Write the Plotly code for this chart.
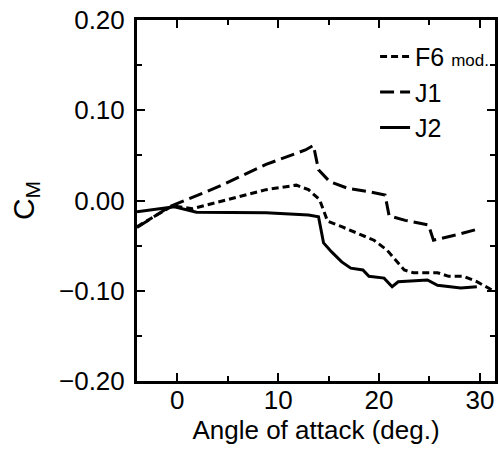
import plotly.graph_objects as go

# ---- data ----
angle_f6 = [-4.0, -0.5, 1.5, 4.2, 8.8, 11.8, 13.0, 14.1, 14.9, 16.3, 18.2, 19.5, 20.8, 22.5, 23.4, 25.8, 26.9, 28.4, 29.7, 31.5]
cm_f6 = [-0.029, -0.006, -0.009, -0.001, 0.012, 0.017, 0.012, 0.001, -0.023, -0.029, -0.038, -0.044, -0.055, -0.077, -0.080, -0.080, -0.084, -0.084, -0.090, -0.101]

angle_j1 = [-4.0, -0.8, 2.5, 4.8, 8.8, 12.7, 13.5, 13.8, 14.0, 15.1, 16.9, 18.9, 20.6, 21.0, 22.6, 24.9, 25.4, 27.7, 29.7]
cm_j1 = [-0.030, -0.007, 0.008, 0.019, 0.040, 0.056, 0.061, 0.043, 0.034, 0.021, 0.0135, 0.010, 0.006, -0.017, -0.022, -0.027, -0.044, -0.038, -0.032]

angle_j2 = [-4.0, -0.3, 1.9, 8.8, 13.0, 14.0, 14.5, 15.3, 16.3, 17.2, 18.4, 19.0, 20.5, 21.3, 21.9, 24.8, 25.8, 28.1, 29.7]
cm_j2 = [-0.0125, -0.007, -0.013, -0.0135, -0.016, -0.018, -0.047, -0.057, -0.068, -0.075, -0.077, -0.084, -0.086, -0.0955, -0.090, -0.088, -0.094, -0.097, -0.0955]

x_ticks = [0, 10, 20, 30]
y_ticks = [-0.20, -0.10, 0.00, 0.10, 0.20]
y_ticklabels = ["\u22120.20", "\u22120.10", "0.00", "0.10", "0.20"]

FONT = "Liberation Sans, Arial, sans-serif"

fig = go.Figure()
fig.add_trace(go.Scatter(x=angle_f6, y=cm_f6, mode="lines",
                         name="F6 <span style='font-size:17px'>mod.</span>",
                         line=dict(color="black", width=3, dash="7px,4px")))
fig.add_trace(go.Scatter(x=angle_j1, y=cm_j1, mode="lines", name="J1",
                         line=dict(color="black", width=3, dash="14px,6px")))
fig.add_trace(go.Scatter(x=angle_j2, y=cm_j2, mode="lines", name="J2",
                         line=dict(color="black", width=3)))

axis_common = dict(
    showline=True, linecolor="black", linewidth=3, mirror="ticks",
    ticks="inside", ticklen=8, tickwidth=2, tickcolor="black",
    showgrid=False, zeroline=False,
    tickfont=dict(family=FONT, size=26, color="black"),
)

fig.update_xaxes(
    range=[-4.0, 31.5], tickvals=x_ticks, ticktext=[str(v) for v in x_ticks],
    minor=dict(dtick=5, tick0=0, ticks="inside", ticklen=5, tickwidth=1.5, tickcolor="black"),
    title=dict(text="Angle of attack (deg.)", font=dict(family=FONT, size=26, color="black"),
               standoff=4),
    ticklabelstandoff=-6,
    **axis_common,
)
fig.update_yaxes(
    range=[-0.20, 0.20], tickvals=y_ticks, ticktext=y_ticklabels,
    minor=dict(dtick=0.05, tick0=0, ticks="inside", ticklen=5, tickwidth=1.5, tickcolor="black"),
    title=dict(text="C<sub>M</sub>", font=dict(family=FONT, size=30, color="black"),
               standoff=16),
    ticklabelstandoff=4,
    **axis_common,
)

fig.update_layout(
    width=499, height=470,
    margin=dict(l=137, r=1, t=20, b=89),
    paper_bgcolor="white", plot_bgcolor="white",
    showlegend=True,
    legend=dict(x=0.665, y=0.962, xanchor="left", yanchor="top",
                bgcolor="rgba(0,0,0,0)", borderwidth=0,
                font=dict(family=FONT, size=25, color="black"),
                tracegroupgap=0, itemwidth=30),
)

fig.write_html("out.html")
